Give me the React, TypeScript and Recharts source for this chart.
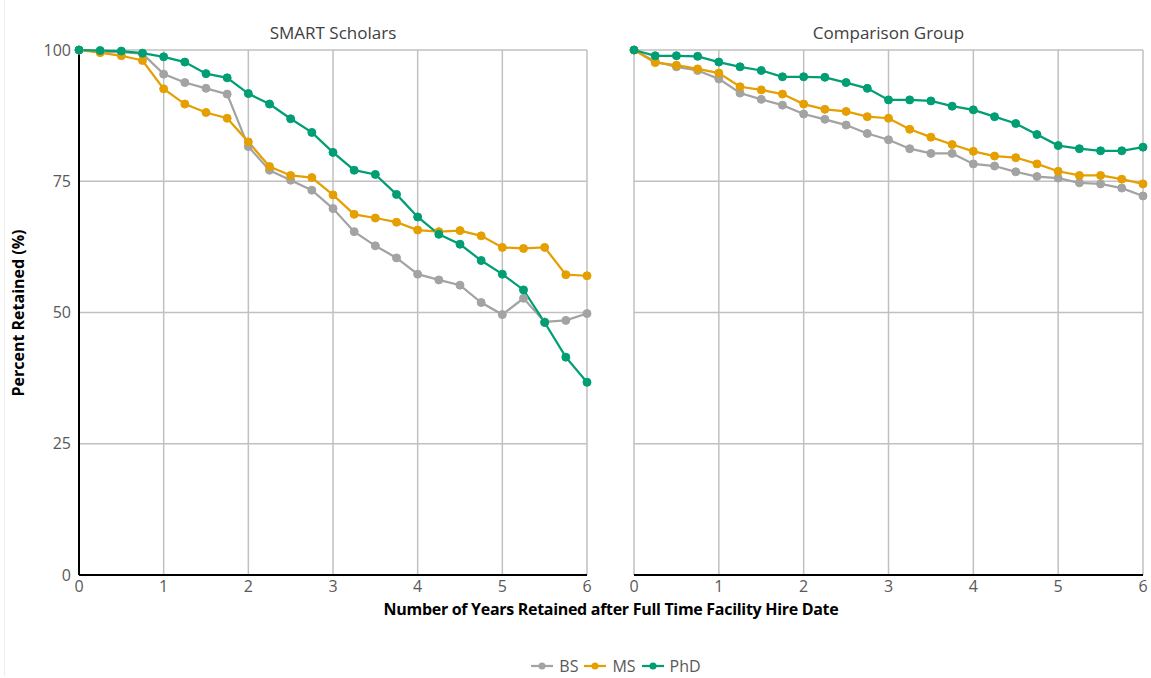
import { LineChart, Line, XAxis, YAxis, CartesianGrid } from 'recharts';

// years after hire date, sampled every quarter
const years = [0, 0.25, 0.5, 0.75, 1, 1.25, 1.5, 1.75, 2, 2.25, 2.5, 2.75, 3, 3.25, 3.5, 3.75, 4, 4.25, 4.5, 4.75, 5, 5.25, 5.5, 5.75, 6];

// SMART Scholars
const smartBS = [100, 99.7, 99.6, 99.3, 95.4, 93.8, 92.7, 91.6, 81.6, 77.1, 75.2, 73.3, 69.8, 65.4, 62.7, 60.4, 57.3, 56.2, 55.2, 51.9, 49.6, 52.7, 48.2, 48.5, 49.8];
const smartMS = [100, 99.5, 98.9, 98.0, 92.6, 89.7, 88.1, 87.0, 82.5, 77.8, 76.1, 75.7, 72.4, 68.7, 68.0, 67.2, 65.7, 65.4, 65.6, 64.6, 62.4, 62.2, 62.4, 57.2, 57.0];
const smartPhD = [100, 99.9, 99.8, 99.4, 98.7, 97.7, 95.5, 94.7, 91.7, 89.7, 86.9, 84.3, 80.5, 77.1, 76.3, 72.5, 68.2, 64.9, 63.0, 59.9, 57.3, 54.3, 48.1, 41.5, 36.7];

// Comparison Group
const compBS = [100, 97.8, 96.8, 96.1, 94.5, 91.8, 90.6, 89.5, 87.8, 86.8, 85.7, 84.1, 82.9, 81.2, 80.3, 80.3, 78.3, 77.9, 76.8, 75.9, 75.6, 74.7, 74.5, 73.7, 72.2];
const compMS = [100, 97.6, 97.1, 96.4, 95.6, 93.0, 92.4, 91.6, 89.7, 88.7, 88.3, 87.3, 87.0, 84.9, 83.4, 82.0, 80.7, 79.8, 79.5, 78.3, 76.9, 76.1, 76.1, 75.4, 74.5];
const compPhD = [100, 98.9, 98.9, 98.8, 97.7, 96.8, 96.1, 94.9, 94.9, 94.8, 93.8, 92.7, 90.5, 90.5, 90.3, 89.3, 88.6, 87.3, 86.0, 83.9, 81.8, 81.2, 80.8, 80.8, 81.5];

const xTicks = [0, 1, 2, 3, 4, 5, 6];
const yTicks = [0, 25, 50, 75, 100];

const series = [
  { key: 'BS', color: '#a3a3a3' },
  { key: 'MS', color: '#e69f00' },
  { key: 'PhD', color: '#009e73' },
];

const smartData = years.map((year, i) => ({ year, BS: smartBS[i], MS: smartMS[i], PhD: smartPhD[i] }));
const compData = years.map((year, i) => ({ year, BS: compBS[i], MS: compMS[i], PhD: compPhD[i] }));

const FONT = '"Open Sans", sans-serif';
const tickStyle = { fill: '#595959', fontSize: 16, fontFamily: FONT };

function Panel({ data, showY }: { data: any[]; showY: boolean }) {
  return (
    <LineChart
      width={showY ? 600 : 551}
      height={620}
      data={data}
      margin={{ top: 50, right: showY ? 13 : 8, bottom: 15, left: showY ? 0 : 34 }}
    >
      <CartesianGrid stroke="#c0c0c0" strokeWidth={1.5} horizontalValues={yTicks} verticalValues={xTicks} />
      <XAxis
        dataKey="year"
        type="number"
        domain={[0, 6]}
        ticks={xTicks}
        tickLine={false}
        tickMargin={0}
        axisLine={{ stroke: '#000', strokeWidth: 2 }}
        tick={tickStyle}
        height={30}
      />
      <YAxis
        hide={!showY}
        type="number"
        domain={[0, 100]}
        ticks={yTicks}
        tickLine={false}
        axisLine={{ stroke: '#000', strokeWidth: 2 }}
        tick={tickStyle}
        width={79}
      />
      {series.map(s => (
        <Line
          key={s.key}
          dataKey={s.key}
          stroke={s.color}
          strokeWidth={2.25}
          dot={{ r: 4, fill: s.color, stroke: s.color, strokeWidth: 1 }}
          isAnimationActive={false}
        />
      ))}
    </LineChart>
  );
}

export default function App() {
  return (
    <div style={{ position: 'absolute', left: 0, top: 0, width: 1151, height: 678, background: '#fff', fontFamily: FONT }}>
      <div style={{ position: 'absolute', left: 4, top: 0, width: 1, height: 676, background: '#eeeeee' }} />
      <div style={{ position: 'absolute', left: 0, top: 0 }}>
        <Panel data={smartData} showY />
      </div>
      <div style={{ position: 'absolute', left: 600, top: 0 }}>
        <Panel data={compData} showY={false} />
      </div>

      {/* panel titles */}
      <div style={{ position: 'absolute', left: 79, width: 508, top: 21, textAlign: 'center', fontSize: 17, color: '#404040' }}>
        SMART Scholars
      </div>
      <div style={{ position: 'absolute', left: 634, width: 509, top: 21, textAlign: 'center', fontSize: 17, color: '#404040' }}>
        Comparison Group
      </div>

      {/* shared axis titles */}
      <div style={{ position: 'absolute', left: 111, width: 1000, top: 599, lineHeight: '20px', textAlign: 'center', fontSize: 16, fontWeight: 700, color: '#000', letterSpacing: -0.3 }}>
        Number of Years Retained after Full Time Facility Hire Date
      </div>
      <div
        style={{
          position: 'absolute', left: 18, top: 313, width: 300, marginLeft: -150, marginTop: -10, height: 20,
          textAlign: 'center', fontSize: 16, fontWeight: 700, color: '#000', transform: 'rotate(-90deg)', lineHeight: '20px',
        }}
      >
        Percent Retained (%)
      </div>

      {/* legend */}
      <div style={{ position: 'absolute', left: 0, width: 1232, top: 655, display: 'flex', justifyContent: 'center', gap: 6, fontSize: 16, color: '#595959' }}>
        {series.map(s => (
          <div key={s.key} style={{ display: 'flex', alignItems: 'center', gap: 6 }}>
            <svg width={22} height={10}>
              <line x1={0} y1={5} x2={22} y2={5} stroke={s.color} strokeWidth={2.25} />
              <circle cx={11} cy={5} r={3.5} fill={s.color} />
            </svg>
            <span>{s.key}</span>
          </div>
        ))}
      </div>
    </div>
  );
}
